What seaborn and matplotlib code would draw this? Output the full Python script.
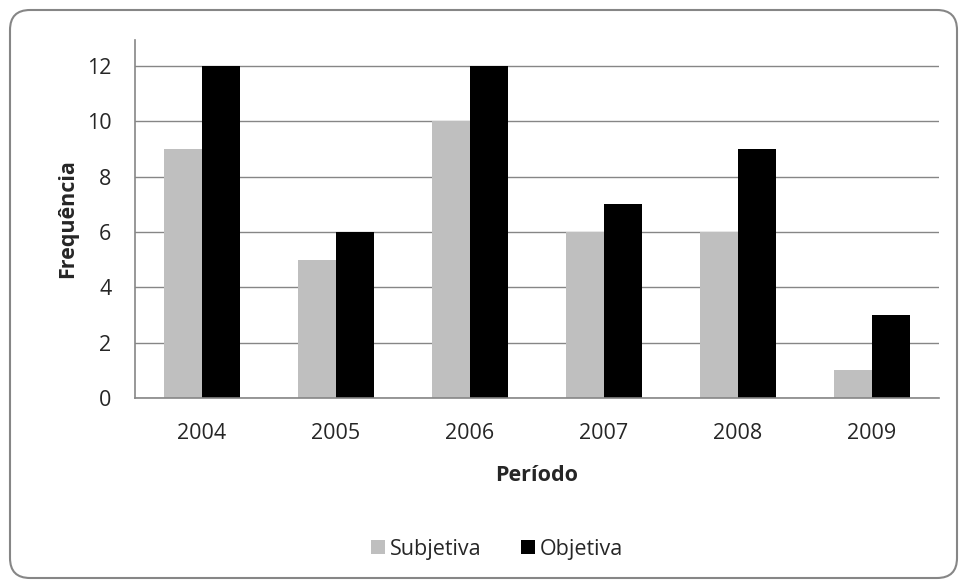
import matplotlib
matplotlib.use("Agg")
from matplotlib import pyplot as plt
from matplotlib.patches import FancyBboxPatch
import pandas as pd
import seaborn as sns

sns.set_style("white")
plt.rcParams["font.family"] = ["Open Sans", "DejaVu Sans"]

periodos = ["2004", "2005", "2006", "2007", "2008", "2009"]
subjetiva = [9, 5, 10, 6, 6, 1]
objetiva = [12, 6, 12, 7, 9, 3]
series = ["Subjetiva", "Objetiva"]
cores = ["#BFBFBF", "#000000"]

df = pd.DataFrame({
  "Período": periodos * 2,
  "Frequência": subjetiva + objetiva,
  "Tipo": ["Subjetiva"] * len(periodos) + ["Objetiva"] * len(periodos),
})

fs = 15.5

fig = plt.figure(figsize=(9.6, 5.81), dpi=100)
ax = fig.add_axes([135/960, 1-398/581, (939-135)/960, (398-40)/581])

sns.barplot(data=df, x="Período", y="Frequência", hue="Tipo", hue_order=series,
            palette=cores, width=0.567, saturation=1, linewidth=0, ax=ax, legend=True)

ax.set_ylim(0, 12.94)
ax.set_xlim(-0.5, 5.5)
ax.set_yticks(range(0, 13, 2))
ax.yaxis.grid(True, color="#868686", linewidth=1)
ax.set_axisbelow(True)
for s in ["top", "right"]:
  ax.spines[s].set_visible(False)
for s in ["left", "bottom"]:
  ax.spines[s].set_color("#868686")
  ax.spines[s].set_linewidth(1.2)

ax.set_xticks(range(len(periodos)))
ax.set_xticklabels(periodos)
ax.set_xticks([i - 0.5 for i in range(len(periodos) + 1)], minor=True)
ax.tick_params(axis="x", which="major", length=0, pad=18, labelsize=fs)
ax.tick_params(axis="x", which="minor", length=6, width=1.2, color="#868686", direction="out")
ax.tick_params(axis="y", length=6, width=1.2, color="#868686", direction="out", pad=11, labelsize=fs)

ax.set_xlabel("Período", fontsize=fs, fontweight="bold", labelpad=15)
ax.set_ylabel("Frequência", fontsize=fs, fontweight="bold", labelpad=6)

handles, labels = ax.get_legend_handles_labels()
ax.legend(handles, labels, loc="center", bbox_to_anchor=(497/960, 1-549/581),
          bbox_transform=fig.transFigure, ncol=2, frameon=False, fontsize=fs,
          handlelength=0.65, handleheight=0.65, handletextpad=0.25, columnspacing=1.8)

borda = FancyBboxPatch((0.10, 0.03), 9.47, 5.68,
                       boxstyle="round,pad=0,rounding_size=0.2",
                       transform=fig.dpi_scale_trans, fill=False,
                       edgecolor="#868686", linewidth=1.5)
fig.patches.append(borda)

plt.savefig("out.png", dpi=100)
